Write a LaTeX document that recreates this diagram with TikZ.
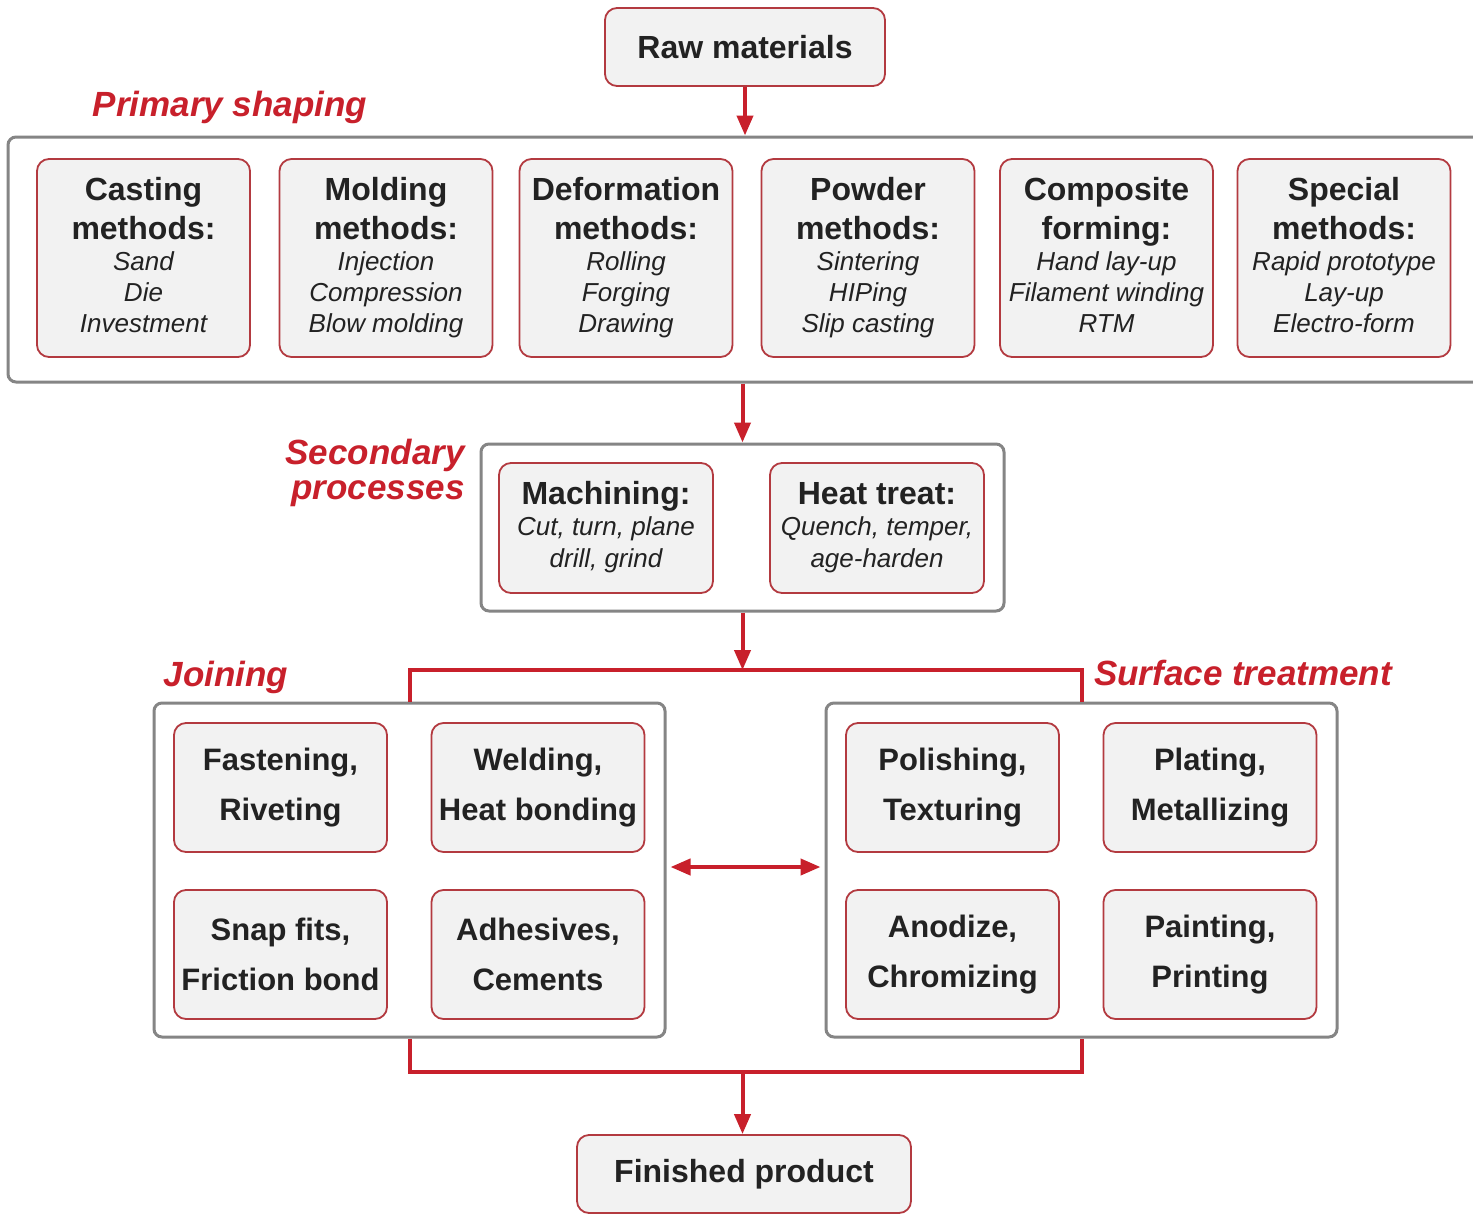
\documentclass[tikz,border=0pt]{standalone}
\usepackage{fontspec}
\setmainfont{Liberation Sans}
\usetikzlibrary{arrows.meta}

\definecolor{procred}{HTML}{C8202B}
\definecolor{edgered}{HTML}{B33A40}
\definecolor{framegray}{HTML}{858585}
\definecolor{boxfill}{HTML}{F2F2F2}
\definecolor{inkgray}{HTML}{222222}

\newcommand{\hd}[1]{{\fontsize{16}{18.5}\selectfont\bfseries\strut #1}}
\newcommand{\itm}[1]{{\fontsize{13}{15.5}\selectfont\itshape\strut #1}}

\tikzset{
  frame/.style={draw=framegray, line width=1.5pt, rounded corners=4pt, fill=white, inner sep=0pt},
  proc/.style={draw=edgered, line width=0.9pt, rounded corners=6pt, fill=boxfill,
    align=center, inner sep=1pt, text=inkgray, font=\fontsize{13}{15.5}\selectfont},
  endproc/.style={proc, font=\fontsize{16}{18.5}\selectfont\bfseries},
  joinproc/.style={proc, font=\fontsize{15.5}{25}\selectfont\bfseries},
  flow/.style={draw=procred, line width=2pt, -{Triangle[length=10pt,width=8pt]}},
  twoway/.style={draw=procred, line width=2pt, {Triangle[length=10pt,width=8pt]}-{Triangle[length=10pt,width=8pt]}},
  bar/.style={draw=procred, line width=2pt},
  tag/.style={text=procred, font=\fontsize{17.5}{17.5}\selectfont\bfseries\itshape, align=right, inner sep=0pt}
}

\begin{document}
\begin{tikzpicture}[x=0.5pt, y=-0.5pt]
    \fill[white] (0,0) rectangle (1473,1215);
    \useasboundingbox (0,0) rectangle (1473,1215);

    % Raw materials
    \node[endproc, minimum width=140pt, minimum height=39pt] (raw) at (745,47) {Raw materials};

    % Primary shaping
    \node[tag] (primtag) at (230,107) {Primary shaping};
    \node[frame, minimum width=746pt, minimum height=122.5pt] (primbox) at (754,259.5) {};
    \node[proc, minimum width=106.5pt, minimum height=99pt] (cast) at (143.5,258)
        {\hd{Casting}\\\hd{methods:}\\[-2pt]\itm{Sand}\\\itm{Die}\\\itm{Investment}};
    \node[proc, minimum width=106.5pt, minimum height=99pt] (mold) at (386,258)
        {\hd{Molding}\\\hd{methods:}\\[-2pt]\itm{Injection}\\\itm{Compression}\\\itm{Blow molding}};
    \node[proc, minimum width=106.5pt, minimum height=99pt] (deform) at (626,258)
        {\hd{Deformation}\\\hd{methods:}\\[-2pt]\itm{Rolling}\\\itm{Forging}\\\itm{Drawing}};
    \node[proc, minimum width=106.5pt, minimum height=99pt] (powder) at (868,258)
        {\hd{Powder}\\\hd{methods:}\\[-2pt]\itm{Sintering}\\\itm{HIPing}\\\itm{Slip casting}};
    \node[proc, minimum width=106.5pt, minimum height=99pt] (comp) at (1106.5,258)
        {\hd{Composite}\\\hd{forming:}\\[-2pt]\itm{Hand lay-up}\\\itm{Filament winding}\\\itm{RTM}};
    \node[proc, minimum width=106.5pt, minimum height=99pt] (special) at (1344,258)
        {\hd{Special}\\\hd{methods:}\\[-2pt]\itm{Rapid prototype}\\\itm{Lay-up}\\\itm{Electro-form}};
    \draw[flow] (raw.south) -- (raw.south |- primbox.north);

    % Secondary processes
    \node[tag, anchor=east] (sectag) at (465,473) {Secondary\\processes};
    \node[frame, minimum width=261.5pt, minimum height=83.5pt] (secbox) at (742.5,527.5) {};
    \node[proc, minimum width=107pt, minimum height=65pt] (mach) at (606,528)
        {\hd{Machining:}\\[-2pt]\itm{Cut, turn, plane}\\[0.5pt]\itm{drill, grind}};
    \node[proc, minimum width=107pt, minimum height=65pt] (heat) at (877,528)
        {\hd{Heat treat:}\\[-2pt]\itm{Quench, temper,}\\[0.5pt]\itm{age-harden}};
    \draw[flow] (secbox.north |- primbox.south) -- (secbox.north);

    % Joining and surface treatment
    \node[tag] (jointag) at (226,677) {Joining};
    \node[tag] (surftag) at (1243,673) {Surface treatment};
    \node[frame, minimum width=255.5pt, minimum height=167pt] (joinbox) at (409.5,870) {};
    \node[frame, minimum width=255.5pt, minimum height=167pt] (surfbox) at (1081.5,870) {};
    \node[joinproc, minimum width=106.5pt, minimum height=64.5pt] (fasten) at (280.5,787.5) {Fastening,\\Riveting};
    \node[joinproc, minimum width=106.5pt, minimum height=64.5pt] (weld) at (538,787.5) {Welding,\\Heat bonding};
    \node[joinproc, minimum width=106.5pt, minimum height=64.5pt] (snap) at (280.5,954.5) {Snap fits,\\Friction bond};
    \node[joinproc, minimum width=106.5pt, minimum height=64.5pt] (adhes) at (538,954.5) {Adhesives,\\Cements};
    \node[joinproc, minimum width=106.5pt, minimum height=64.5pt] (polish) at (952.5,787.5) {Polishing,\\Texturing};
    \node[joinproc, minimum width=106.5pt, minimum height=64.5pt] (plate) at (1210,787.5) {Plating,\\Metallizing};
    \node[joinproc, minimum width=106.5pt, minimum height=64.5pt] (anod) at (952.5,954.5) {Anodize,\\Chromizing};
    \node[joinproc, minimum width=106.5pt, minimum height=64.5pt] (paint) at (1210,954.5) {Painting,\\Printing};

    \coordinate (split) at (742.5,670);
    \coordinate (merge) at (742.5,1072);
    \draw[flow] (secbox.south) -- (split);
    \draw[bar] (joinbox.north) |- (split) -| (surfbox.north);
    \draw[twoway, shorten <=2pt, shorten >=2pt] (joinbox.east |- 0,867) -- (surfbox.west |- 0,867);

    % Finished product
    \node[endproc, minimum width=167pt, minimum height=39pt] (fin) at (744,1174) {Finished product};
    \draw[bar] (joinbox.south) |- (merge) -| (surfbox.south);
    \draw[flow] (merge) -- (merge |- fin.north);
\end{tikzpicture}
\end{document}
